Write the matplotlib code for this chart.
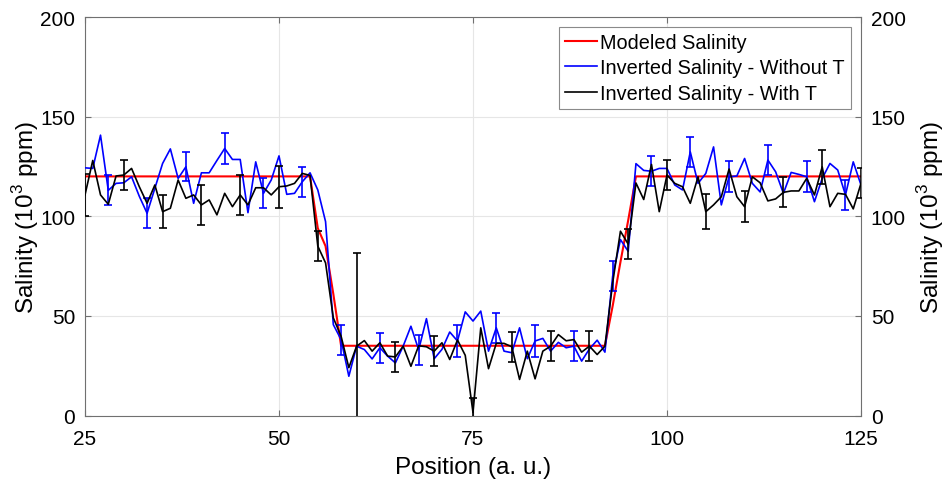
import numpy as np
import matplotlib
matplotlib.use("Agg")
import matplotlib.pyplot as plt

plt.rcParams['font.family'] = ['Liberation Sans', 'DejaVu Sans']
plt.rcParams['mathtext.fontset'] = 'custom'
plt.rcParams['mathtext.rm'] = 'Liberation Sans'

# Sample positions (a. u.)
position = np.arange(25, 126)

# Modeled salinity profile (10^3 ppm)
modeled = [120.0] * 30 + [94, 85, 61] + [35.0] * 35 + [55, 77, 98] + [120.0] * 30

# Inverted salinity without temperature correction
without_t = [
    124.3, 124.0, 140.7, 113.0, 116.5, 116.8, 119.8, 110.0, 101.5, 114.0,
    126.5, 133.8, 119.0, 124.8, 106.5, 121.8, 121.8, 128.0, 134.0, 128.5,
    128.5, 101.8, 127.3, 111.5, 118.2, 130.3, 111.0, 111.5, 117.3, 121.8,
    113.2, 97.3, 45.6, 38.1, 19.7, 34.8, 33.1, 28.4, 34.0, 29.8,
    26.4, 34.8, 44.8, 33.0, 48.6, 28.5, 33.2, 41.9, 37.4, 52.0,
    47.4, 52.4, 32.3, 44.0, 32.3, 31.5, 44.0, 28.5, 37.4, 38.7,
    32.3, 36.7, 34.0, 34.8, 27.3, 33.4, 37.8, 31.8, 70.0, 88.3,
    82.4, 126.4, 123.0, 122.6, 124.0, 124.0, 115.7, 113.2, 132.3, 116.5,
    121.5, 134.8, 105.7, 119.8, 120.2, 129.0, 116.5, 112.2, 128.2, 122.3,
    111.5, 122.0, 121.0, 119.8, 107.3, 119.0, 126.5, 123.2, 110.7, 127.3,
    115.7,
]

# Inverted salinity with temperature correction
with_t = [
    110.7, 128.0, 110.7, 106.0, 120.2, 120.7, 124.0, 114.8, 106.5, 115.7,
    102.3, 104.0, 118.2, 109.0, 110.7, 105.7, 108.2, 100.7, 111.5, 104.8,
    110.7, 105.7, 114.3, 114.3, 110.7, 114.8, 115.2, 116.5, 121.5, 120.5,
    85.0, 76.6, 49.0, 39.8, 24.0, 34.8, 37.6, 32.3, 36.5, 29.8,
    29.4, 34.8, 24.7, 35.0, 34.5, 32.3, 36.5, 28.1, 37.9, 30.2,
    1.5, 44.0, 23.5, 36.2, 36.2, 34.5, 18.1, 32.3, 18.4, 32.3,
    34.8, 40.6, 37.5, 38.1, 31.8, 34.8, 30.6, 34.8, 66.6, 92.5,
    86.0, 116.7, 108.4, 126.0, 102.3, 120.7, 116.5, 114.8, 106.5, 119.8,
    102.3, 105.7, 109.8, 123.7, 109.8, 104.8, 119.8, 116.8, 107.7, 108.7,
    112.0, 112.7, 112.7, 119.0, 110.7, 124.8, 104.8, 111.5, 111.0, 103.7,
    116.5,
]

# Uncertainty shown at a subset of positions
without_t_err_pos = [28, 33, 38, 43, 48, 53, 58, 63, 68, 73,
                     78, 83, 88, 93, 98, 103, 108, 113, 118, 123]
without_t_err = [7.5, 7.5, 7.3, 7.7, 7.5, 7.5, 7.5, 7.5, 7.5, 7.8,
                 7.5, 7.8, 7.5, 7.7, 7.5, 7.5, 7.7, 7.5, 7.7, 7.5]

with_t_err_pos = [25, 30, 35, 40, 45, 50, 55, 60, 65, 70, 75,
                  80, 85, 90, 95, 100, 105, 110, 115, 120, 125]
with_t_err = [10.5, 7.5, 8.3, 10.0, 10.0, 10.5, 7.5, 47.0, 7.5, 7.5, 7.5,
              7.5, 7.5, 7.5, 7.7, 7.7, 8.7, 7.7, 7.5, 8.6, 7.5]

lookup_wo = dict(zip(position, without_t))
lookup_w = dict(zip(position, with_t))

W, H = 949, 481
L, R, T, B = 85, 861, 18, 416.5
fig = plt.figure(figsize=(W / 100, H / 100), dpi=100)
ax = fig.add_axes([L / W, 1 - B / H, (R - L) / W, (B - T) / H])

ax.plot(position, modeled, color='#ff0000', lw=1.5, label='Modeled Salinity', zorder=3)
ax.plot(position, without_t, color='#0000ff', lw=1.2, label='Inverted Salinity - Without T', zorder=4)
ax.errorbar(without_t_err_pos, [lookup_wo[p] for p in without_t_err_pos], yerr=without_t_err,
            fmt='none', ecolor='#0000ff', elinewidth=1.2, capsize=2.6, capthick=1.2, zorder=4)
ax.plot(position, with_t, color='black', lw=1.2, label='Inverted Salinity - With T', zorder=5)
ax.errorbar(with_t_err_pos, [lookup_w[p] for p in with_t_err_pos], yerr=with_t_err,
            fmt='none', ecolor='black', elinewidth=1.2, capsize=2.6, capthick=1.2, zorder=5)

ax.set_xlim(25, 125)
ax.set_ylim(0, 200)
ax.set_xticks([25, 50, 75, 100, 125])
ax.set_yticks([0, 50, 100, 150, 200])
ax.grid(True, color='#e6e6e6', lw=0.8, zorder=0)
ax.set_axisbelow(True)

axis_col = '#707070'
for s in ax.spines.values():
    s.set_color(axis_col)
    s.set_linewidth(0.8)
ax.tick_params(direction='in', length=4, width=0.8, colors=axis_col,
               labelcolor='black', labelsize=15, top=True)
ax.tick_params(axis='x', pad=10)
ax.tick_params(axis='y', pad=7)

ax.set_xlabel('Position (a. u.)', fontsize=17.5, va='center')
ax.xaxis.set_label_coords(0.5, (B - 468) / (B - T))
ax.set_ylabel('Salinity (10$^3$ ppm)', fontsize=17.5, va='center')
ax.yaxis.set_label_coords((26 - L) / (R - L), 0.5)

ax2 = ax.twinx()
ax2.set_ylim(0, 200)
ax2.set_yticks([0, 50, 100, 150, 200])
ax2.tick_params(direction='in', length=4, width=0.8, colors=axis_col,
                labelcolor='black', labelsize=15, pad=7)
for s in ax2.spines.values():
    s.set_visible(False)
ax2.set_ylabel('Salinity (10$^3$ ppm)', fontsize=17.5, va='center')
ax2.yaxis.set_label_coords((931 - L) / (R - L), 0.5)

leg = ax.legend(loc='upper right', fontsize=14.3, frameon=True, fancybox=False,
                edgecolor='#8a8a8a', framealpha=1, handlelength=1.6, handletextpad=0.2,
                borderaxespad=0.5, borderpad=0.3, labelspacing=0.32)
leg.get_frame().set_linewidth(0.8)

fig.savefig('out.png', dpi=100)
